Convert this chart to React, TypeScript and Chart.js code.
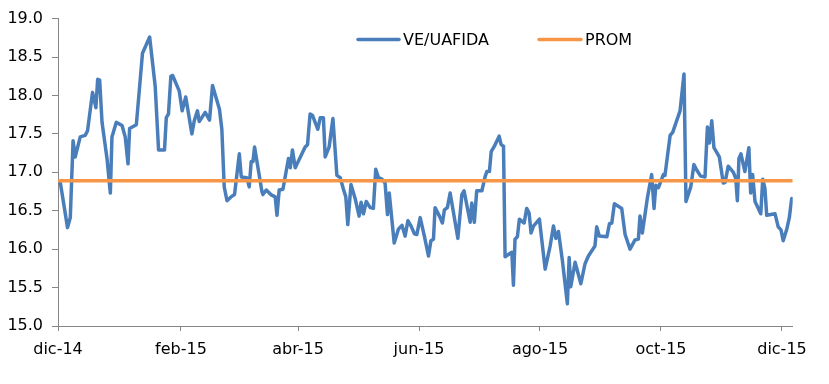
import React, { useEffect, useRef } from "react";
import { Chart, registerables } from "chart.js";

Chart.register(...registerables);

// Series labels
const SERIES_LABEL = "VE/UAFIDA";
const PROM_LABEL = "PROM";

// Days since 1 Dec 2014 (x position of each observation)
const DAYS = [
  0, 1.2, 4.8, 6.2, 7.6, 8.7, 11.2, 13.7, 14.9, 17.4, 19.1, 20.0, 21.0, 22.2, 24.7, 26.4, 27.2, 29.4,
  32.3, 33.9, 35.3, 36.1, 39.5, 42.6, 46.2, 49.0, 50.7, 53.7, 54.6, 55.7, 56.9, 57.8, 61.1, 62.6, 64.4,
  67.5, 68.7, 70.3, 71.2, 74.2, 76.4, 77.9, 81.4, 82.6, 83.8, 85.2, 87.2, 89.0, 91.4, 92.4, 95.2, 96.4,
  97.4, 98.3, 99.1, 102.8, 103.3, 105.0, 107.3, 109.5, 110.4, 111.5, 113.4, 116.2, 117.1, 118.2, 119.6,
  124.6, 125.8, 127.1, 128.3, 131.0, 132.2, 133.8, 134.7, 136.7, 138.6, 140.6, 142.3, 143.9, 145.1,
  146.1, 147.7, 149.8, 151.8, 152.8, 154.0, 155.4, 157.4, 159.0, 160.2, 161.6, 163.3, 164.9, 166.1,
  167.0, 169.5, 171.6, 173.4, 175.0, 176.4, 178.0, 179.7, 180.9, 182.6, 184.7, 186.8, 188.0, 189.3,
  190.1, 192.3, 193.8, 194.8, 196.3, 197.7, 201.6, 203.6, 204.7, 207.8, 208.6, 209.9, 211.1, 213.7,
  215.3, 216.2, 217.5, 218.4, 220.0, 222.4, 223.4, 224.6, 225.4, 227.6, 228.8, 229.6, 230.4, 231.6,
  232.6, 235.0, 236.3, 237.5, 238.5, 239.7, 242.7, 245.6, 248.1, 249.8, 251.0, 252.3, 254.3, 256.8,
  257.7, 258.5, 260.7, 263.6, 265.7, 267.4, 270.7, 271.6, 272.9, 276.7, 278.0, 279.2, 280.5, 284.2,
  285.9, 288.4, 290.9, 292.6, 293.4, 294.6, 297.1, 299.3, 300.5, 301.4, 302.7, 305.2, 306.0, 308.6,
  309.9, 313.6, 315.6, 316.6, 319.0, 320.6, 322.0, 324.0, 326.2, 327.4, 328.4, 329.6, 330.7, 333.4,
  335.4, 336.3, 337.9, 340.5, 341.7, 342.5, 343.3, 344.3, 346.3, 348.3, 349.2, 350.2, 351.4, 354.3,
  355.3, 356.4, 357.3, 361.5, 363.1, 364.5, 365.6, 367.4, 368.7, 369.9,
];

// VE/UAFIDA values
const VALUES = [
  16.89, 16.86, 16.28, 16.41, 17.41, 17.2, 17.46, 17.48, 17.54, 18.04, 17.84, 18.21, 18.2, 17.65, 17.18,
  16.73, 17.46, 17.65, 17.61, 17.46, 17.11, 17.57, 17.62, 18.55, 18.76, 18.12, 17.29, 17.29, 17.71,
  17.76, 18.25, 18.26, 18.06, 17.8, 17.98, 17.5, 17.67, 17.8, 17.66, 17.78, 17.68, 18.13, 17.82, 17.56,
  16.81, 16.63, 16.68, 16.71, 17.24, 16.94, 16.93, 16.81, 17.14, 17.14, 17.33, 16.75, 16.71, 16.77,
  16.71, 16.68, 16.44, 16.77, 16.78, 17.18, 17.06, 17.29, 17.06, 17.33, 17.36, 17.76, 17.74, 17.56,
  17.71, 17.71, 17.2, 17.33, 17.7, 16.96, 16.93, 16.78, 16.68, 16.32, 16.84, 16.66, 16.43, 16.61,
  16.46, 16.62, 16.54, 16.53, 17.04, 16.93, 16.91, 16.86, 16.45, 16.73, 16.08, 16.26, 16.31, 16.17,
  16.37, 16.3, 16.2, 16.19, 16.41, 16.17, 15.91, 16.11, 16.13, 16.54, 16.43, 16.34, 16.51, 16.54,
  16.73, 16.14, 16.71, 16.76, 16.35, 16.6, 16.35, 16.76, 16.76, 16.94, 17.01, 17.01, 17.27, 17.34,
  17.47, 17.36, 17.34, 15.9, 15.94, 15.96, 15.53, 16.13, 16.16, 16.39, 16.34, 16.53, 16.47, 16.21,
  16.3, 16.39, 15.74, 16.04, 16.3, 16.14, 16.23, 15.85, 15.29, 15.89, 15.51, 15.83, 15.55, 15.81,
  15.91, 16.04, 16.29, 16.17, 16.16, 16.33, 16.34, 16.59, 16.53, 16.19, 16.0, 16.12, 16.13, 16.43,
  16.21, 16.66, 16.97, 16.53, 16.83, 16.8, 16.97, 16.96, 17.48, 17.52, 17.8, 18.28, 16.62, 16.81,
  17.1, 17.03, 16.95, 16.94, 17.59, 17.38, 17.67, 17.32, 17.2, 16.86, 16.87, 17.08, 17.0, 16.92,
  16.63, 17.18, 17.24, 17.01, 17.32, 16.73, 16.97, 16.62, 16.46, 16.91, 16.79, 16.44, 16.46, 16.29,
  16.25, 16.11, 16.26, 16.41, 16.66,
];

// Average (PROM)
const PROM_VALUE = 16.89;

// X axis range (days since 1 Dec 2014) and tick labels
const X_MIN = 0;
const X_MAX = 370.4;
const TICK_DAYS = [0, 62, 121, 182, 243, 304, 365];
const TICK_LABELS = ["dic-14", "feb-15", "abr-15", "jun-15", "ago-15", "oct-15", "dic-15"];

// Y axis
const Y_MIN = 15;
const Y_MAX = 19;
const Y_STEP = 0.5;

const FONT_FAMILY = "'DejaVu Sans', Verdana, sans-serif";
const AXIS_COLOR = "#868686";
const BLUE = "#4A7EBB";
const ORANGE = "#F79646";

const insideLegend = {
  id: "insideLegend",
  afterDraw(chart: any) {
    const ctx = chart.ctx as CanvasRenderingContext2D;
    const ds = chart.data.datasets;
    const layout = [
      { x1: 358, x2: 399, tx: 403 },
      { x1: 539, x2: 581, tx: 585 },
    ];
    const y = 39.5;
    ctx.save();
    ds.forEach((d: any, i: number) => {
      const p = layout[i];
      if (!p) return;
      ctx.beginPath();
      ctx.strokeStyle = d.borderColor;
      ctx.lineWidth = 3.5;
      ctx.lineCap = "round";
      ctx.moveTo(p.x1, y);
      ctx.lineTo(p.x2, y);
      ctx.stroke();
      ctx.fillStyle = "#000";
      ctx.font = `16px ${FONT_FAMILY}`;
      ctx.textBaseline = "middle";
      ctx.textAlign = "left";
      ctx.fillText(d.label, p.tx, y + 1);
    });
    ctx.restore();
  },
};

export default function App() {
  const canvasRef = useRef<HTMLCanvasElement | null>(null);

  useEffect(() => {
    if (!canvasRef.current) return;
    const seriesPoints = DAYS.map((d, i) => ({ x: d, y: VALUES[i] }));
    const promPoints = [
      { x: X_MIN, y: PROM_VALUE },
      { x: X_MAX, y: PROM_VALUE },
    ];

    const chart = new Chart(canvasRef.current, {
      type: "line",
      data: {
        datasets: [
          {
            label: SERIES_LABEL,
            data: seriesPoints,
            borderColor: BLUE,
            backgroundColor: BLUE,
            borderWidth: 3.5,
            pointRadius: 0,
            tension: 0,
            borderJoinStyle: "round",
            borderCapStyle: "round",
            order: 1,
          },
          {
            label: PROM_LABEL,
            data: promPoints,
            borderColor: ORANGE,
            backgroundColor: ORANGE,
            borderWidth: 3.5,
            pointRadius: 0,
            tension: 0,
            borderCapStyle: "butt",
            order: 0,
          },
        ],
      },
      options: {
        animation: false,
        responsive: false,
        maintainAspectRatio: false,
        layout: { padding: { left: 0, right: 36.3, top: 15, bottom: 0 } },
        plugins: {
          legend: { display: false },
          tooltip: { enabled: false },
        },
        scales: {
          x: {
            type: "linear",
            min: X_MIN,
            max: X_MAX,
            afterBuildTicks: (scale: any) => {
              scale.ticks = TICK_DAYS.map((v) => ({ value: v }));
            },
            afterFit: (scale: any) => {
              scale.height = 58;
            },
            ticks: {
              autoSkip: false,
              maxRotation: 0,
              minRotation: 0,
              padding: 9,
              color: "#000",
              font: { family: FONT_FAMILY, size: 16 },
              callback: (value: any) => {
                const idx = TICK_DAYS.indexOf(Number(value));
                return idx >= 0 ? TICK_LABELS[idx] : "";
              },
            },
            grid: {
              display: true,
              drawOnChartArea: false,
              drawTicks: true,
              tickLength: 5,
              color: AXIS_COLOR,
            },
            border: { display: true, color: AXIS_COLOR, width: 1 },
          },
          y: {
            type: "linear",
            min: Y_MIN,
            max: Y_MAX,
            afterFit: (scale: any) => {
              scale.width = 58;
            },
            ticks: {
              stepSize: Y_STEP,
              padding: 9,
              color: "#000",
              font: { family: FONT_FAMILY, size: 16 },
              callback: (value: any) => Number(value).toFixed(1),
            },
            grid: {
              display: true,
              drawOnChartArea: false,
              drawTicks: true,
              tickLength: 6,
              color: AXIS_COLOR,
            },
            border: { display: true, color: AXIS_COLOR, width: 1 },
          },
        },
      },
      plugins: [insideLegend],
    });

    return () => chart.destroy();
  }, []);

  return (
    <div style={{ position: "fixed", left: 0, top: 0, width: 829, height: 384, background: "#fff" }}>
      <canvas ref={canvasRef} width={829} height={384} style={{ display: "block" }} />
    </div>
  );
}
